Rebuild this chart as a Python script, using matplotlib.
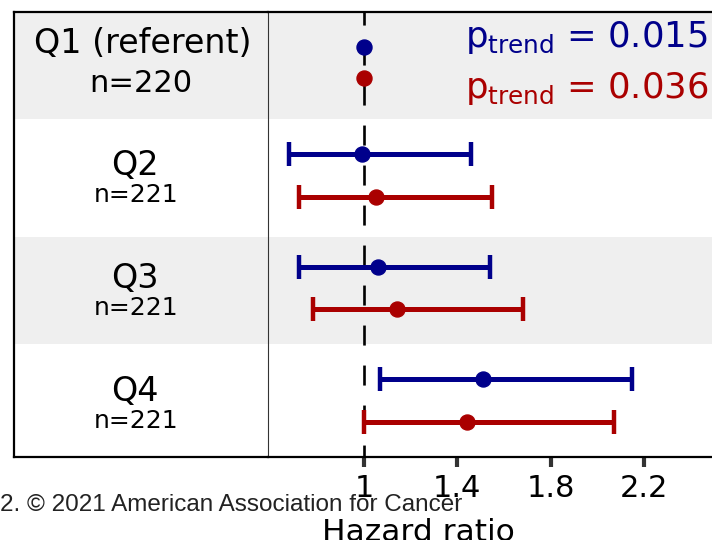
import numpy as np
import matplotlib
matplotlib.use("Agg")
import matplotlib.pyplot as plt

# quartile rows, top to bottom
quartiles = ["Q1 (referent)", "Q2", "Q3", "Q4"]
counts = ["n=220", "n=221", "n=221", "n=221"]

# hazard ratios and 95% CI, two models
hr_blue = [1.00, 0.99, 1.06, 1.51]
lo_blue = [np.nan, 0.68, 0.72, 1.07]
hi_blue = [np.nan, 1.46, 1.54, 2.15]
hr_red = [1.00, 1.05, 1.14, 1.44]
lo_red = [np.nan, 0.72, 0.78, 1.00]
hi_red = [np.nan, 1.55, 1.68, 2.07]

p_trend = ["0.015", "0.036"]
xticks = [1, 1.4, 1.8, 2.2]

BLUE = "#00008b"
RED = "#aa0000"
BAND = "#efefef"

plt.rcParams["font.family"] = ["DejaVu Sans"]
plt.rcParams["mathtext.fontset"] = "dejavusans"
plt.rcParams["lines.scale_dashes"] = False

W, H = 712, 540
fig = plt.figure(figsize=(W / 100, H / 100), dpi=100)
ax_lab = fig.add_axes([14 / W, 1 - 457 / H, (268 - 14) / W, 445 / H])
ax = fig.add_axes([268 / W, 1 - 457 / H, (760 - 268) / W, 445 / H])

rows = np.arange(len(quartiles))
offset = np.array([0.14, 0.19, 0.19, 0.19])

for a in (ax_lab, ax):
    a.set_ylim(3.5, -0.45)
    # shaded bands behind Q1 and Q3
    for i in (0, 2):
        a.axhspan(i - 0.45, i + 0.5, color=BAND, lw=0, zorder=0)
    for s in a.spines.values():
        s.set_linewidth(1.6)
        s.set_color("black")
    a.set_yticks([])

# label column
ax_lab.set_xlim(0, 1)
ax_lab.set_xticks([])
ax_lab.spines["right"].set_visible(False)
for i, (q, n) in enumerate(zip(quartiles, counts)):
    if i == 0:
        ax_lab.text(0.508, i - 0.09, q, ha="center", va="baseline", fontsize=24)
        ax_lab.text(0.5, i + 0.26, n, ha="center", va="baseline", fontsize=22)
    else:
        ax_lab.text(0.476, i + 0.0, q, ha="center", va="baseline", fontsize=24)
        ax_lab.text(0.48, i + 0.24, n, ha="center", va="baseline", fontsize=18)

# forest plot
ax.set_xlim(0.5885, 2.697)
ax.spines["left"].set_linewidth(0.8)
ax.spines["left"].set_color("#333333")
ax.spines["right"].set_visible(False)
ax.axvline(1, color="black", lw=1.9, linestyle=(5.8, (14.4, 14.4)), zorder=1)

y_blue = rows - offset
y_red = rows + offset
for hr, lo, hi, y, c in [(hr_blue, lo_blue, hi_blue, y_blue, BLUE),
                         (hr_red, lo_red, hi_red, y_red, RED)]:
    hr, lo, hi = map(np.asarray, (hr, lo, hi))
    ok = ~np.isnan(lo)
    ax.errorbar(hr[ok], y[ok], xerr=[hr[ok] - lo[ok], hi[ok] - hr[ok]], fmt="none",
                ecolor=c, elinewidth=3.6, capsize=8.6, capthick=3.2, zorder=3)
    ax.plot(hr, y, "o", color=c, markersize=10.8, zorder=4)

ax.text(0.40, 0.921, r"p$_{\mathrm{trend}}$ = " + p_trend[0], transform=ax.transAxes,
        color=BLUE, fontsize=25.5, va="baseline", ha="left")
ax.text(0.40, 0.807, r"p$_{\mathrm{trend}}$ = " + p_trend[1], transform=ax.transAxes,
        color=RED, fontsize=25.5, va="baseline", ha="left")

ax.set_xticks(xticks)
ax.set_xticklabels([f"{t:g}" for t in xticks], fontsize=22)
ax.tick_params(axis="x", length=7.5, width=3, color="#333333", pad=5)

fig.text(418 / W, 1 - 541 / H, "Hazard ratio", ha="center", va="baseline", fontsize=22.5)
fig.text(0.0, 1 - 511 / H, "2. \u00a9 2021 American Association for Cancer",
         family="Liberation Sans", fontsize=17.5, color="#222222", ha="left", va="baseline")

fig.savefig("out.png", dpi=100)
